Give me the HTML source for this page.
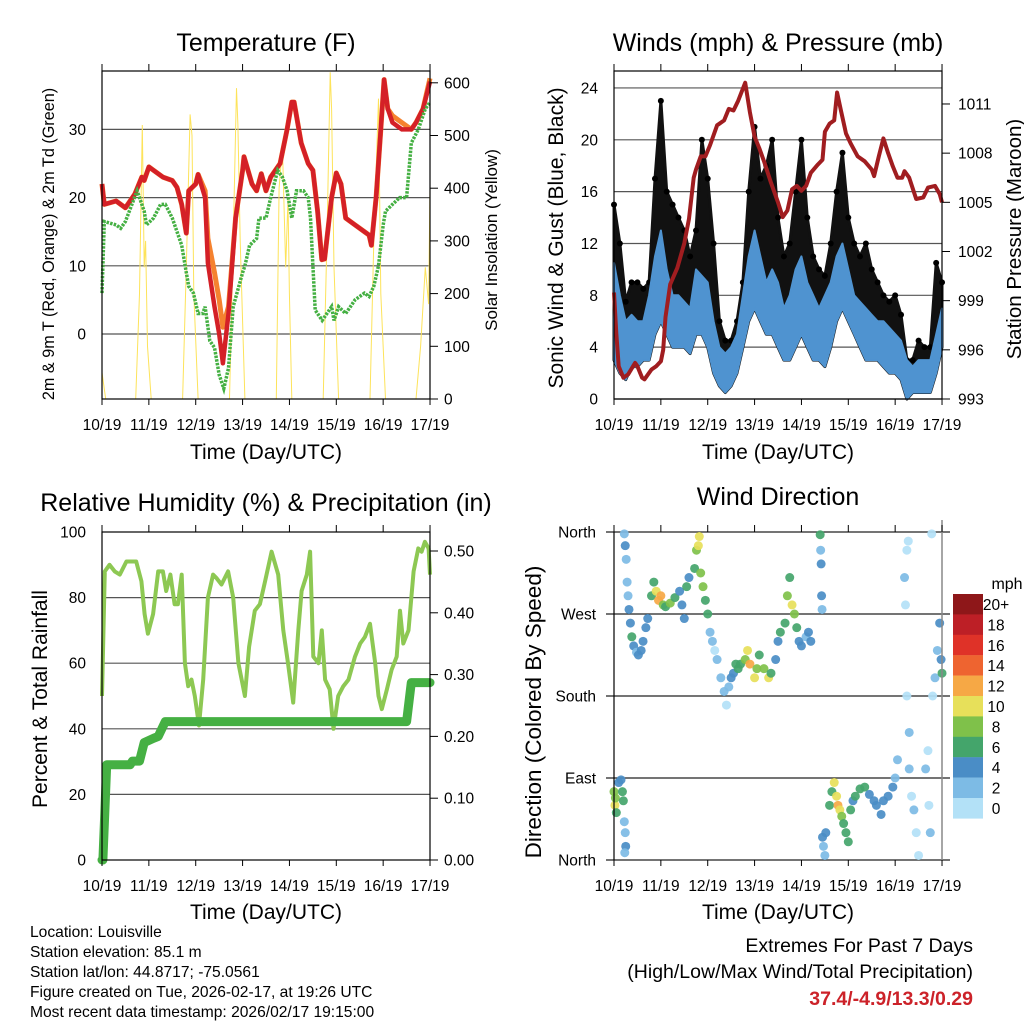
<!DOCTYPE html>
<html><head><meta charset="utf-8"><style>
body{margin:0;background:#fff}
svg{display:block;font-family:"Liberation Sans",sans-serif}
</style></head><body>
<svg id="root" width="1024" height="1024" viewBox="0 0 1024 1024" xmlns="http://www.w3.org/2000/svg">
<rect width="1024" height="1024" fill="#fff"/>
<text x="266" y="51" font-size="25" text-anchor="middle">Temperature (F)</text>
<text x="778" y="51" font-size="25" text-anchor="middle">Winds (mph) &amp; Pressure (mb)</text>
<text x="266" y="511" font-size="25" text-anchor="middle">Relative Humidity (%) &amp; Precipitation (in)</text>
<text x="778" y="505" font-size="25" text-anchor="middle">Wind Direction</text>
<text x="266" y="459" font-size="21" text-anchor="middle">Time (Day/UTC)</text>
<text x="778" y="459" font-size="21" text-anchor="middle">Time (Day/UTC)</text>
<text x="266" y="919" font-size="21" text-anchor="middle">Time (Day/UTC)</text>
<text x="778" y="919" font-size="21" text-anchor="middle">Time (Day/UTC)</text>
<text transform="translate(54,244) rotate(-90)" font-size="16.2" text-anchor="middle">2m &amp; 9m T (Red, Orange) &amp; 2m Td (Green)</text>
<text transform="translate(497,240) rotate(-90)" font-size="17" text-anchor="middle">Solar Insolation (Yellow)</text>
<text transform="translate(563,238) rotate(-90)" font-size="21" text-anchor="middle">Sonic Wind &amp; Gust (Blue, Black)</text>
<text transform="translate(1021,239) rotate(-90)" font-size="20.5" text-anchor="middle">Station Pressure (Maroon)</text>
<text transform="translate(47,699) rotate(-90)" font-size="21" text-anchor="middle">Percent &amp; Total Rainfall</text>
<text transform="translate(541,712) rotate(-90)" font-size="22.5" text-anchor="middle">Direction (Colored By Speed)</text>
<g font-size="15.6">
<text x="30" y="937">Location: Louisville</text>
<text x="30" y="957">Station elevation: 85.1 m</text>
<text x="30" y="977">Station lat/lon: 44.8717; -75.0561</text>
<text x="30" y="997">Figure created on Tue, 2026-02-17, at 19:26 UTC</text>
<text x="30" y="1017">Most recent data timestamp: 2026/02/17 19:15:00</text>
</g>
<g font-size="19.5" text-anchor="end">
<text x="973" y="952">Extremes For Past 7 Days</text>
<text x="973" y="978">(High/Low/Max Wind/Total Precipitation)</text>
<text x="973" y="1005" fill="#cc2229" font-weight="bold">37.4/-4.9/13.3/0.29</text>
</g>
<text x="1007" y="589" font-size="16" text-anchor="middle">mph</text>
</svg>
<script>
const dayLabels=['10/19','11/19','12/19','13/19','14/19','15/19','16/19','17/19'];
const tempTicks=[0,10,20,30];
const solarTicks=[0,100,200,300,400,500,600];
const windTicks=[0,4,8,12,16,20,24];
const presTicks=[993,996,999,1002,1005,1008,1011];
const rhTicks=[0,20,40,60,80,100];
const precTicks=[0,0.1,0.2,0.3,0.4,0.5];
const dirTicks=[0,90,180,270,360];
const dirLabels=['North','East','South','West','North'];

const redD=[0,0.05,0.3,0.5,0.7,0.85,0.9,1.0,1.1,1.3,1.5,1.6,1.7,1.8,1.85,2.0,2.05,2.2,2.26,2.4,2.5,2.58,2.7,2.85,3.0,3.03,3.2,3.3,3.4,3.5,3.6,3.8,3.95,4.05,4.1,4.25,4.4,4.5,4.6,4.69,4.75,4.9,5.0,5.1,5.2,5.4,5.6,5.7,5.75,5.85,5.95,6.02,6.1,6.2,6.4,6.6,6.7,6.85,7.0];
const redV=[22,19,19.5,18.5,20.5,23,22.5,24.5,24,23,22.5,21.5,19,14.8,21,22,23.4,20,10.4,4,0,-4.3,3,17,24,26,22,21,23.5,21,23,25,30,34,34,28,25,24,18,10.9,11,20,23.6,22,17,16,15,14.5,13,20,30,37.3,33,31,30,30,31,33,37];
const orangeV=[22,19,19.5,18.5,20.5,23,22.5,24.5,24,23,22.5,21.5,19,14.8,21,22,23.4,21,14,9,5,1,4,17,24,26,22,21,23.5,21,23,25,30,34,34,28,25,24,18,10.9,11,20,23.6,22,17,16,15,14.5,13,20,30,37.3,33,32,31,30,31,33,37.5];
const tdD=[0,0.05,0.3,0.4,0.5,0.75,0.9,0.95,1.1,1.25,1.35,1.5,1.7,1.8,1.85,1.95,2.05,2.15,2.2,2.3,2.4,2.5,2.6,2.7,2.8,3.0,3.05,3.15,3.3,3.35,3.5,3.6,3.75,3.85,3.95,4.05,4.15,4.3,4.4,4.45,4.5,4.55,4.7,4.9,4.95,5.05,5.2,5.3,5.4,5.6,5.7,5.8,5.9,6.0,6.05,6.2,6.35,6.5,6.6,6.75,6.9,7.0];
const tdV=[6,16.5,16,15.5,16.5,21,18,16,17,19,19,17,13,9,7,6,3,3,4,-1,-2,-6,-8,-5,4,9,10,13,14,17,17,20,24,23,21,17,21,21,20,17,10,3.5,2,4,2,4,3,4,5,6,5.5,7,10,16,18,19,20,20,28,30,33,34];
const solarD=[0,0.08,0.72,0.8,0.86,0.9,0.93,0.97,1.05,1.72,1.8,1.88,1.92,1.96,2.05,2.72,2.8,2.87,2.9,2.95,3.05,3.72,3.78,3.85,3.92,3.97,4.0,4.05,4.72,4.8,4.87,4.9,4.95,5.05,5.72,5.8,5.9,5.95,6.05,6.7,6.8,6.9,6.97,7.0];
const solarV=[50,0,0,200,520,250,300,100,0,0,250,540,500,200,0,0,300,590,520,300,0,0,400,480,250,380,200,0,0,300,620,550,250,0,0,300,570,200,0,0,100,250,180,400];

const windD=[0,0.125,0.25,0.375,0.5,0.625,0.75,0.875,1,1.125,1.25,1.375,1.5,1.625,1.75,1.875,2,2.125,2.25,2.375,2.5,2.625,2.75,2.875,3,3.125,3.25,3.375,3.5,3.625,3.75,3.875,4,4.125,4.25,4.375,4.5,4.625,4.75,4.875,5,5.125,5.25,5.375,5.5,5.625,5.75,5.875,6,6.125,6.25,6.375,6.5,6.625,6.75,6.875,7];
const windLo=[3,2,1.5,2.5,2.5,3,3,5,6,5,4,4,4,3.5,5,5,4,2,1,0.5,1,2,4,6,7,6,5,5,4,3,3,4,5,4,3,3,2.5,4,6,7,6,5,4,3,3,3,2.5,2,2,1.5,0,0.5,0.5,0.5,0.5,2,4];
const windHi=[10.5,8,6,6.5,6,6,8,11,13,10,8,8,7.5,7,10,9.5,9,6,4,3.5,4,5,8,11,13,11,9,10,9,7,8,10,11,9,8,7,8,9,11,12,10,8,7.5,7,6.5,6,6,5.5,5,4.5,3,2.5,3,3,3,5,7];
const gustHi=[15,12,7.5,9,9,8.5,9,17,23,16,15,14,13,11,13,20,17,12,6,4.5,4.5,6,9,16,21,17,18,20,14,11,12,16,20,14,11,10,9.5,12,16,19,14,12,11,12,10,9,8,7.5,8,6.5,3,3,4.5,4,4,10.5,9];
const presD=[0,0.05,0.1,0.2,0.3,0.45,0.5,0.6,0.65,0.8,0.9,1.0,1.05,1.1,1.2,1.35,1.5,1.6,1.7,1.75,1.85,1.95,2.05,2.2,2.35,2.45,2.55,2.65,2.8,2.9,3.0,3.1,3.2,3.35,3.5,3.6,3.7,3.8,3.9,4.0,4.1,4.2,4.35,4.45,4.5,4.6,4.7,4.76,4.85,4.95,5.05,5.2,5.35,5.5,5.55,5.65,5.75,5.85,5.95,6.05,6.15,6.2,6.3,6.45,6.6,6.7,6.85,6.95,7.0];
const presV=[999.5,997,995,994.3,994.5,995.2,995,994.3,994.2,994.8,995,995.3,996,998,1000,1001,1002.5,1004,1006.5,1007,1007.8,1007.8,1008.5,1009.7,1010,1010.7,1010.6,1011.2,1012.3,1010.5,1009,1008.3,1007.5,1006.2,1005,1004.1,1004.5,1005.8,1006,1005.7,1006,1006.8,1007.3,1007.6,1009.3,1009.8,1010,1011.7,1010.5,1009.2,1008.6,1007.8,1007.5,1007,1006.6,1007.8,1008.9,1008,1007.2,1006.5,1006.5,1006.9,1006.5,1005.2,1005.3,1005.9,1006,1005.5,1005];

const rhD=[0,0.06,0.16,0.27,0.38,0.52,0.73,0.84,0.91,0.98,1.09,1.2,1.3,1.37,1.46,1.55,1.62,1.7,1.77,1.84,1.91,1.98,2.07,2.16,2.26,2.37,2.44,2.55,2.69,2.8,2.91,3.05,3.14,3.26,3.37,3.48,3.62,3.76,3.87,3.97,4.08,4.19,4.26,4.37,4.44,4.51,4.62,4.69,4.76,4.86,4.94,5.04,5.15,5.26,5.4,5.51,5.61,5.72,5.83,5.9,5.97,6.08,6.18,6.29,6.36,6.43,6.54,6.65,6.75,6.82,6.89,6.97,7.0];
const rhV=[50,88,90,88,87,91,91,85,75,69,75,88,88,82,87,78,78,87,60,53,55,50,41,55,80,87,86,84,88,80,60,50,65,76,78,85,94,87,70,60,48,70,82,87,94,62,60,70,55,52,40,50,53,55,62,66,68,72,60,50,46,52,58,62,76,66,70,88,95,94,97,95,87];
const precD=[0,0.02,0.1,0.6,0.65,0.8,0.9,1.1,1.2,1.35,6.5,6.6,7.0];
const precV=[0,0,0.154,0.154,0.16,0.16,0.19,0.197,0.2,0.224,0.224,0.287,0.287];

const dirDay=[0,0.02,0.03,0.05,0.1,0.15,0.18,0.2,0.22,0.24,0.25,0.23,0.22,0.24,0.26,0.28,0.3,0.32,0.35,0.38,0.42,0.48,0.52,0.58,0.62,0.68,0.72,0.8,0.85,0.9,0.95,1.0,1.05,1.1,1.2,1.3,1.4,1.45,1.5,1.55,1.6,1.72,1.76,1.8,1.82,1.85,1.9,1.95,2.0,2.05,2.1,2.15,2.2,2.28,2.35,2.4,2.45,2.5,2.55,2.6,2.65,2.7,2.8,2.85,2.9,3.0,3.05,3.1,3.2,3.3,3.35,3.45,3.5,3.55,3.65,3.7,3.75,3.8,3.85,3.9,3.95,4.0,4.1,4.15,4.2,4.4,4.41,4.42,4.43,4.44,4.45,4.47,4.5,4.52,4.6,4.65,4.7,4.75,4.78,4.82,4.86,4.9,4.95,5.0,5.05,5.1,5.15,5.25,5.35,5.45,5.55,5.6,5.7,5.75,5.85,5.95,6.0,6.05,6.2,6.22,6.25,6.28,6.25,6.3,6.3,6.35,6.4,6.45,6.5,6.65,6.7,6.72,6.75,6.78,6.8,6.85,6.9,6.95,6.98,7.0];
const dirDeg=[75,60,68,52,85,88,75,65,42,30,15,8,358,345,330,305,290,275,260,245,235,228,225,230,240,255,265,290,305,295,285,290,280,278,282,288,295,280,265,300,310,320,340,345,355,315,300,285,270,250,240,230,220,200,185,170,190,200,205,215,210,215,220,230,215,200,210,225,210,200,205,220,240,250,260,290,310,280,270,255,240,235,245,250,240,357,340,325,290,275,25,15,5,30,60,75,85,70,60,55,48,40,30,20,55,65,70,78,80,72,65,60,50,65,70,80,90,110,310,280,340,350,180,140,100,70,55,30,5,100,120,60,30,358,180,200,230,260,220,205];
const dirSpd=[9,10,8,6,4,5,6,7,3,2,4,3,3,4,3,2,3,4,5,6,4,3,4,4,5,4,5,6,7,10,12,13,8,7,8,6,5,4,4,6,4,7,8,10,11,9,8,7,6,3,2,1,2,3,2,1,3,4,5,6,6,7,9,11,12,10,9,7,8,10,6,5,5,6,7,8,6,10,9,7,5,4,3,4,5,6,3,4,4,3,4,3,3,5,6,7,10,11,12,10,9,7,7,6,6,5,6,7,6,5,4,4,4,5,4,4,3,3,2,1,1,0,1,2,3,1,2,1,1,2,1,1,3,1,1,2,3,4,5,6];
const cbLabels=['20+','18','16','14','12','10','8','6','4','2','0'];
const cbColors=['#8e1719','#bd1f26','#df3228','#ee6430','#f6a845','#e7e05a','#7fc14a','#44a56b','#4a8dc6','#7dbbe5','#b3e1f7'];

const NS='http://www.w3.org/2000/svg';
const root=document.getElementById('root');
function mk(tag,attrs,parent){const e=document.createElementNS(NS,tag);for(const k in attrs)e.setAttribute(k,attrs[k]);(parent||root).appendChild(e);return e;}
function pth(ds,vs,xf,yf){return ds.map((d,i)=>(i?'L':'M')+xf(d).toFixed(1)+','+yf(vs[i]).toFixed(1)).join('');}
function spdColor(s){const idx=Math.min(10,Math.max(0,10-Math.floor(s/2)));return cbColors[idx];}

const PX=46.86;
const xA=d=>102+d*PX, xB=d=>614+d*PX;
const yT=t=>334-t*6.82, yS=s=>399-s*0.527;
const yW=w=>399-w*12.96, yP=p=>399-(p-993)*16.39;
const yR=r=>860-r*3.28, yPr=p=>860-p*618;
const yD=d=>860-d*0.9111;
const TFS=15.5;

function xAxis(x0,yb,ytop,xf,labelsShown,name){
  dayLabels.forEach((lab,i)=>{
    const x=xf(i);
    const t=mk('line',{x1:x,y1:ytop,x2:x,y2:ytop-7,stroke:'#000','stroke-width':1});
    
    
    const b=mk('line',{x1:x,y1:yb,x2:x,y2:yb+6,stroke:'#000','stroke-width':1});
    
    
    const tx=mk('text',{x:x,y:yb+31,'font-size':TFS,'text-anchor':'middle'});
    tx.textContent=lab;
    
    
  });
}
function hGrid(vals,yf,x1,x2,name,col){
  vals.forEach(v=>{const l=mk('line',{x1:x1,x2:x2,y1:yf(v),y2:yf(v),stroke:col||'#555','stroke-width':1.2});
    
    });
}
function yLabels(vals,yf,x,anchor,name,fmt,fs){
  vals.forEach(v=>{const t=mk('text',{x:x,y:yf(v)+5.5,'font-size':fs||TFS,'text-anchor':anchor});
    t.textContent=fmt?fmt(v):v;
    
    });
}
function rightTicks(vals,yf,x,name){
  vals.forEach(v=>{const l=mk('line',{x1:x,x2:x+8,y1:yf(v),y2:yf(v),stroke:'#000','stroke-width':1});
    
    });
}
function frame(x,y,w,h,name){const r=mk('rect',{x:x,y:y,width:w,height:h,fill:'none',stroke:'#000','stroke-width':1.2});
  
  }

// Panel 1
hGrid(tempTicks,yT,102,430,'temp-gridline');
let e=mk('path',{d:pth(solarD,solarV,xA,yS),fill:'none',stroke:'#fde35a','stroke-width':1});


e=mk('path',{d:pth(redD,orangeV,xA,yT),fill:'none',stroke:'#f5822f','stroke-width':5,'stroke-linejoin':'round'});


e=mk('path',{d:pth(redD,redV,xA,yT),fill:'none',stroke:'#d42027','stroke-width':4.5,'stroke-linejoin':'round'});


e=mk('path',{d:pth(tdD,tdV,xA,yT),fill:'none',stroke:'#45b043','stroke-width':3.5,'stroke-dasharray':'2.5 1.2'});


frame(102,71,328,328,'temp-plot-frame');
xAxis(102,399,71,xA,true,'temp-x');
yLabels(tempTicks,yT,86,'end','temp-y-label');
rightTicks(solarTicks,yS,430,'solar-tick');
yLabels(solarTicks,yS,444,'start','solar-y-label');

// Panel 2
hGrid(windTicks,yW,614,942,'wind-gridline');
const blackPoly=pth(windD,gustHi,xB,yW)+windD.slice().reverse().map((d,i)=>'L'+xB(d).toFixed(1)+','+yW(windLo[windLo.length-1-i]).toFixed(1)).join('')+'Z';
e=mk('path',{d:blackPoly,fill:'#111',stroke:'#111','stroke-width':3,'stroke-linejoin':'round'});


windD.forEach((d,i)=>{const c=mk('circle',{cx:xB(d),cy:yW(gustHi[i]),r:3,fill:'#000'});
  
  });
const bluePoly=pth(windD,windHi,xB,yW)+windD.slice().reverse().map((d,i)=>'L'+xB(d).toFixed(1)+','+yW(windLo[windLo.length-1-i]).toFixed(1)).join('')+'Z';
e=mk('path',{d:bluePoly,fill:'#4f93d0',stroke:'#4f93d0','stroke-width':2,'stroke-linejoin':'round'});


e=mk('path',{d:pth(presD,presV,xB,yP),fill:'none',stroke:'#a01d20','stroke-width':4,'stroke-linejoin':'round'});


frame(614,71,328,328,'wind-plot-frame');
xAxis(614,399,71,xB,true,'wind-x');
yLabels(windTicks,yW,598,'end','wind-y-label');
rightTicks(presTicks,yP,942,'pressure-tick');
yLabels(presTicks,yP,958,'start','pressure-y-label');

// Panel 3
hGrid(rhTicks.slice(1,5),yR,102,430,'rh-gridline');
e=mk('path',{d:pth(rhD,rhV,xA,yR),fill:'none',stroke:'#8dc853','stroke-width':4,'stroke-linejoin':'round'});


e=mk('path',{d:pth(precD,precV,xA,yPr),fill:'none',stroke:'#45b043','stroke-width':9,'stroke-linejoin':'round','stroke-linecap':'round'});


frame(102,532,328,328,'rh-plot-frame');
xAxis(102,860,532,xA,true,'rh-x');
yLabels(rhTicks,yR,86,'end','rh-y-label');
rightTicks(precTicks,yPr,430,'precip-tick');
yLabels(precTicks,yPr,444,'start','precip-y-label',v=>v.toFixed(2));

// Panel 4
dirTicks.forEach((v,i)=>{const l=mk('line',{x1:606,x2:950,y1:yD(v),y2:yD(v),stroke:'#222','stroke-width':1.2});
  
  
  const t=mk('text',{x:596,y:yD(v)+5.5,'font-size':TFS,'text-anchor':'end'});
  t.textContent=dirLabels[i];
  
  });
dirDay.forEach((d,i)=>{const c=mk('circle',{cx:xB(d),cy:yD(dirDeg[i]),r:4.5,fill:spdColor(dirSpd[i]),opacity:0.92});
  
  });
e=mk('line',{x1:614,x2:614,y1:532,y2:860,stroke:'#000','stroke-width':1.2});


e=mk('line',{x1:942,x2:942,y1:520,y2:860,stroke:'#888','stroke-width':1.5});


xAxis(614,860,532,xB,true,'dir-x');
cbColors.forEach((c,i)=>{const r=mk('rect',{x:953,y:594+i*20.4,width:30,height:20.6,fill:c});
  
  
  const t=mk('text',{x:996,y:594+i*20.4+16,'font-size':15.5,'text-anchor':'middle'});
  t.textContent=cbLabels[i];
  
  });
</script>
</body></html>
